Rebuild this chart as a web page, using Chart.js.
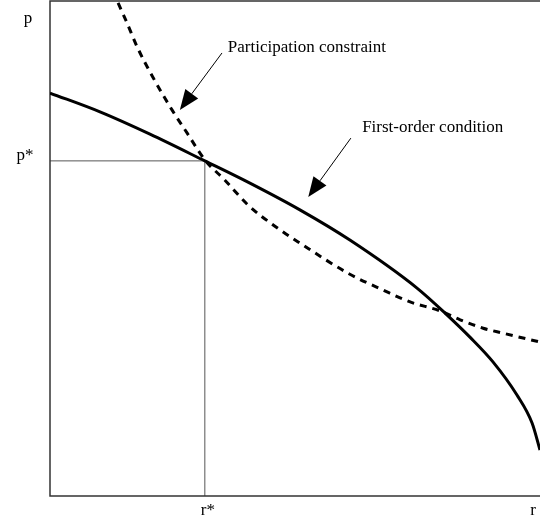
<!DOCTYPE html>
<html>
<head>
<meta charset="utf-8">
<script src="https://cdn.jsdelivr.net/npm/chart.js@4"></script>
<style>
  body { margin: 0; background: #fff; }
  canvas { display: block; }
</style>
</head>
<body>
<canvas id="chart" width="540" height="523"></canvas>
<script>
// ----------- DATA (x: r, y: p, in 0-100 units) -----------
const focX = [0, 10.2, 20.4, 31.6, 40.8, 51.0, 61.2, 74.9, 81.0, 85.7, 90.4, 95.3, 98.4, 100];
const focY = [81.4, 77.6, 73.1, 67.7, 63.2, 57.8, 51.7, 42.0, 36.6, 32.1, 27.1, 20.4, 14.7, 9.3];

const pcX = [13.9, 15.7, 17.8, 21.0, 24.9, 28.0, 31.6, 35.7, 40.4, 45.9, 51.0, 61.2, 68.0, 73.5, 79.6, 83.7, 88.4, 92.4, 100];
const pcY = [99.6, 95.6, 90.7, 84.6, 78.0, 73.3, 67.9, 63.8, 58.8, 54.5, 51.1, 44.8, 41.6, 39.2, 37.4, 35.6, 33.9, 32.9, 31.1];

const rStar = 31.6;
const pStar = 67.7;

const axisLabels = { x: "r", y: "p", xStar: "r*", yStar: "p*" };
const notes = [
  { text: "Participation constraint", tx: 36.3, ty: 89.7, from: [35.1, 89.5], to: [26.5, 78.0] },
  { text: "First-order condition", tx: 63.7, ty: 73.5, from: [61.4, 72.3], to: [52.7, 60.4] }
];

const toPts = (xs, ys) => xs.map((x, i) => ({ x: x, y: ys[i] }));

const FONT = "17px 'Liberation Serif', 'Times New Roman', serif";

// ----------- DRAWING EXTRAS -----------
const extras = {
  id: "extras",
  beforeDatasetsDraw(chart) {
    const { ctx, chartArea: a, scales: { x, y } } = chart;
    ctx.save();
    // r*, p* guide lines
    ctx.strokeStyle = "#555";
    ctx.lineWidth = 1;
    ctx.beginPath();
    ctx.moveTo(a.left, y.getPixelForValue(pStar));
    ctx.lineTo(x.getPixelForValue(rStar), y.getPixelForValue(pStar));
    ctx.lineTo(x.getPixelForValue(rStar), a.bottom);
    ctx.stroke();
    // frame: top, left, bottom
    ctx.strokeStyle = "#333";
    ctx.lineWidth = 1.5;
    ctx.beginPath();
    ctx.moveTo(a.right, a.top);
    ctx.lineTo(a.left, a.top);
    ctx.lineTo(a.left, a.bottom);
    ctx.lineTo(a.right, a.bottom);
    ctx.stroke();
    ctx.restore();
  },
  afterDatasetsDraw(chart) {
    const { ctx, chartArea: a, scales: { x, y } } = chart;
    ctx.save();
    ctx.fillStyle = "#000";
    ctx.font = FONT;
    ctx.textAlign = "center";
    ctx.textBaseline = "alphabetic";
    ctx.fillText(axisLabels.y, 28, 23);
    ctx.fillText(axisLabels.yStar, 25, y.getPixelForValue(pStar) - 1);
    ctx.fillText(axisLabels.xStar, x.getPixelForValue(rStar) + 3, a.bottom + 19);
    ctx.fillText(axisLabels.x, 533, a.bottom + 19);

    notes.forEach(n => {
      ctx.textAlign = "left";
      ctx.fillText(n.text, x.getPixelForValue(n.tx), y.getPixelForValue(n.ty));
      const x1 = x.getPixelForValue(n.from[0]), y1 = y.getPixelForValue(n.from[1]);
      const x2 = x.getPixelForValue(n.to[0]), y2 = y.getPixelForValue(n.to[1]);
      const ang = Math.atan2(y2 - y1, x2 - x1);
      const len = 20, half = 8;
      const bx = x2 - len * Math.cos(ang), by = y2 - len * Math.sin(ang);
      ctx.strokeStyle = "#000";
      ctx.lineWidth = 1;
      ctx.beginPath();
      ctx.moveTo(x1, y1);
      ctx.lineTo(bx, by);
      ctx.stroke();
      ctx.beginPath();
      ctx.moveTo(x2, y2);
      ctx.lineTo(bx + half * Math.sin(ang), by - half * Math.cos(ang));
      ctx.lineTo(bx - half * Math.sin(ang), by + half * Math.cos(ang));
      ctx.closePath();
      ctx.fill();
    });
    ctx.restore();
  }
};

// ----------- CHART -----------
new Chart(document.getElementById("chart").getContext("2d"), {
  type: "line",
  data: {
    datasets: [
      {
        label: "First-order condition",
        data: toPts(focX, focY),
        borderColor: "#000",
        borderWidth: 3,
        pointRadius: 0,
        cubicInterpolationMode: "monotone",
        fill: false
      },
      {
        label: "Participation constraint",
        data: toPts(pcX, pcY),
        borderColor: "#000",
        borderWidth: 3,
        borderDash: [7, 6],
        pointRadius: 0,
        cubicInterpolationMode: "monotone",
        fill: false
      }
    ]
  },
  options: {
    responsive: false,
    animation: false,
    layout: { padding: { left: 50, top: 1, right: 0, bottom: 27 } },
    plugins: { legend: { display: false }, tooltip: { enabled: false } },
    scales: {
      x: { type: "linear", min: 0, max: 100, display: false },
      y: { type: "linear", min: 0, max: 100, display: false }
    }
  },
  plugins: [extras]
});
</script>
</body>
</html>
